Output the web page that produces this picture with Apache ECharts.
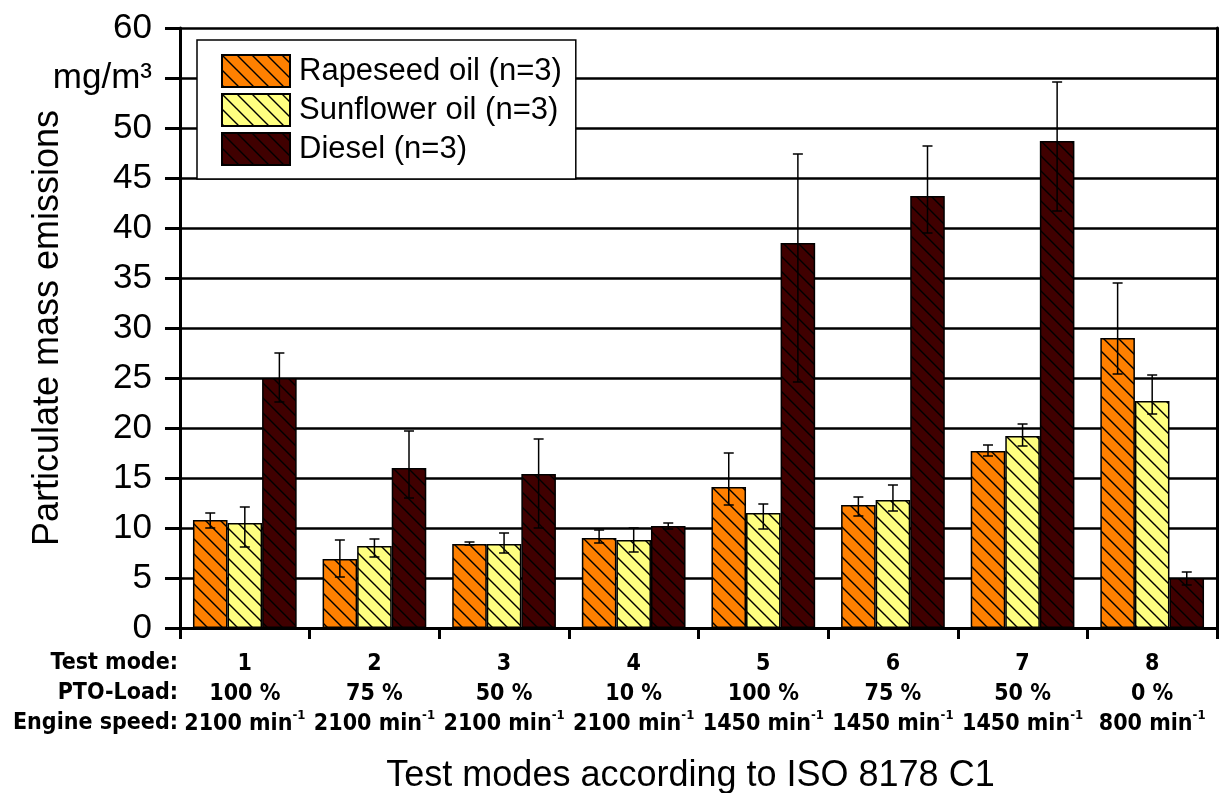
<!DOCTYPE html>
<html><head><meta charset="utf-8">
<script src="https://cdn.jsdelivr.net/npm/echarts@6/dist/echarts.min.js"></script>
<style>html,body{margin:0;padding:0;background:#fff}#c{width:1224px;height:793px}</style>
</head><body><div id="c"></div>
<script>
const modes = ['1','2','3','4','5','6','7','8'];
const loads = ['100 %','75 %','50 %','10 %','100 %','75 %','50 %','0 %'];
const speeds = ['2100','2100','2100','2100','1450','1450','1450','800'];
const seriesNames = ['Rapeseed oil (n=3)','Sunflower oil (n=3)','Diesel (n=3)'];
const rapeseed = [10.8, 6.9, 8.4, 9.0, 14.1, 12.3, 17.7, 29.0];
const rapeseedLow = [10.0, 5.1, 8.3, 8.5, 12.3, 11.2, 17.2, 25.4];
const rapeseedHigh = [11.5, 8.8, 8.6, 9.8, 17.5, 13.1, 18.3, 34.5];
const sunflower = [10.5, 8.2, 8.4, 8.8, 11.5, 12.8, 19.2, 22.7];
const sunflowerLow = [8.1, 7.1, 7.5, 7.6, 9.9, 11.7, 18.2, 21.4];
const sunflowerHigh = [12.1, 8.9, 9.5, 10.0, 12.4, 14.3, 20.4, 25.3];
const diesel = [25.0, 16.0, 15.4, 10.2, 38.5, 43.2, 48.7, 5.0];
const dieselLow = [22.6, 13.0, 10.0, 9.9, 24.6, 39.5, 41.7, 4.3];
const dieselHigh = [27.5, 19.7, 18.9, 10.5, 47.4, 48.2, 54.6, 5.6];
const yTickUnitLabel = 'mg/m³';

function hatch(color){
  const s = 15;
  const c = document.createElement('canvas'); c.width = s; c.height = s;
  const g = c.getContext('2d');
  g.fillStyle = color; g.fillRect(0,0,s,s);
  g.strokeStyle = '#000'; g.lineWidth = 1.4;
  g.beginPath();
  g.moveTo(-1,-1); g.lineTo(s+1,s+1);
  g.moveTo(-2,s-2); g.lineTo(2,s+2);
  g.moveTo(s-2,-2); g.lineTo(s+2,2);
  g.stroke();
  return {image:c, repeat:'repeat'};
}
const colors = ['#FF8000','#FFFF80','#400000'];
const values = [rapeseed, sunflower, diesel];
const lows = [rapeseedLow, sunflowerLow, dieselLow];
const highs = [rapeseedHigh, sunflowerHigh, dieselHigh];

const catGap = 0.2;
function errSeries(idx){
  return {
    type:'custom', z:10, silent:true,
    data: modes.map((m,i)=>[i, lows[idx][i], highs[idx][i]]),
    renderItem:function(params, api){
      const band = api.size([1,0])[0];
      const bw = band*(1-catGap)/3;
      const c = api.coord([api.value(0), 0]);
      const x = c[0] + (idx-1)*bw;
      const yl = api.coord([api.value(0), api.value(1)])[1];
      const yh = api.coord([api.value(0), api.value(2)])[1];
      const cap = 5;
      const st = {stroke:'#000', lineWidth:1.5};
      return {type:'group', children:[
        {type:'line', shape:{x1:x,y1:yl,x2:x,y2:yh}, style:st},
        {type:'line', shape:{x1:x-cap,y1:yh,x2:x+cap,y2:yh}, style:st},
        {type:'line', shape:{x1:x-cap,y1:yl,x2:x+cap,y2:yl}, style:st}
      ]};
    }
  };
}

const font = 'Liberation Sans, Arial, sans-serif';
const narrow = '"Liberation Sans Narrow", "DejaVu Sans Condensed", "Arial Narrow", sans-serif';

const chart = echarts.init(document.getElementById('c'), null, {renderer:'canvas'});
chart.setOption({
  animation:false,
  backgroundColor:'#fff',
  grid:{left:180, right:7, top:28, bottom:165, outerBoundsMode:'none', containLabel:false},
  legend:{
    orient:'vertical', left:197, top:40,
    data:seriesNames,
    itemWidth:68, itemHeight:32, itemGap:5,
    padding:[14,14,13,24],
    backgroundColor:'#fff', borderColor:'#000', borderWidth:1.5,
    textStyle:{fontFamily:font, fontSize:31, lineHeight:32, color:'#000', padding:[0,0,0,4]},
    icon:'rect'
  },
  xAxis:{
    type:'category', data:modes,
    axisLine:{lineStyle:{color:'#000', width:3}},
    axisTick:{show:true, length:11, lineStyle:{color:'#000', width:3}},
    axisLabel:{
      interval:0, margin:21, color:'#000',
      formatter:function(v, i){
        return '{b|'+v+'}\n{b|'+loads[i]+'}\n{b|'+speeds[i]+' min}{s|-1}';
      },
      rich:{
        b:{fontFamily:narrow, fontWeight:'bold', fontSize:23, lineHeight:30, color:'#000'},
        s:{fontFamily:narrow, fontWeight:'bold', fontSize:13, lineHeight:30, verticalAlign:'top', color:'#000', padding:[0,0,12,0]}
      }
    },
    name:'Test modes according to ISO 8178 C1', nameLocation:'middle', nameGap:130, nameMoveOverlap:false,
    nameTextStyle:{fontFamily:font, fontSize:36, color:'#000', padding:[0,16,0,0]}
  },
  yAxis:[{
    type:'value', min:0, max:60, interval:5,
    axisLine:{show:true, lineStyle:{color:'#000', width:3}},
    axisTick:{show:true, length:15, lineStyle:{color:'#000', width:3}},
    splitLine:{show:true, lineStyle:{color:'#000', width:2.5}},
    axisLabel:{fontFamily:font, fontSize:35, color:'#000', margin:28,
      formatter:function(v){ return v===55 ? yTickUnitLabel : String(v); }},
    name:'Particulate mass emissions', nameLocation:'middle', nameGap:114, nameMoveOverlap:false,
    nameTextStyle:{fontFamily:font, fontSize:36, color:'#000'}
  },{
    type:'value', min:0, max:60, interval:5, position:'right',
    axisLine:{show:true, lineStyle:{color:'#000', width:3}},
    axisTick:{show:false}, axisLabel:{show:false}, splitLine:{show:false}
  }],
  graphic:[
    {type:'text', right:1224-178, top:652, style:{text:'Test mode:', font:'bold 23px '+narrow, fill:'#000', textAlign:'right'}},
    {type:'text', right:1224-178, top:682, style:{text:'PTO-Load:', font:'bold 23px '+narrow, fill:'#000', textAlign:'right'}},
    {type:'text', right:1224-178, top:712, style:{text:'Engine speed:', font:'bold 23px '+narrow, fill:'#000', textAlign:'right'}}
  ],
  series:[
    ...values.map((arr,idx)=>({
      name:seriesNames[idx], type:'bar', data:arr,
      barGap:'0%', barCategoryGap:'20%',
      itemStyle:{color:hatch(colors[idx]), borderColor:'#000', borderWidth:1.5}
    })),
    errSeries(0), errSeries(1), errSeries(2)
  ]
});
</script></body></html>
